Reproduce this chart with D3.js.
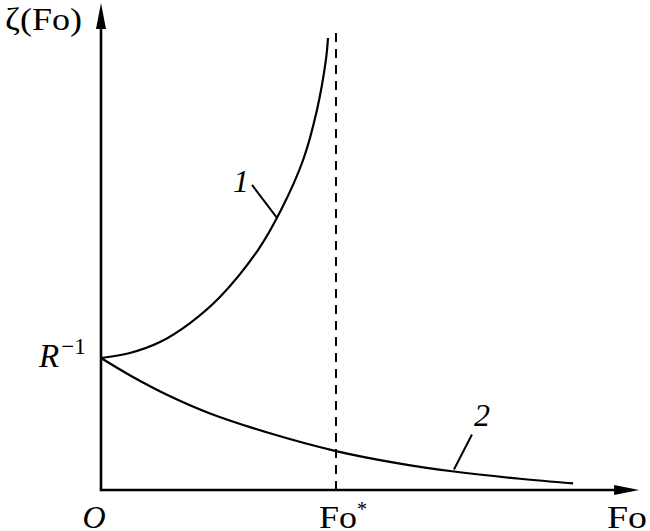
<!DOCTYPE html>
<html>
<head>
<meta charset="utf-8">
<script src="https://cdn.jsdelivr.net/npm/d3@7"></script>
<style>
  html, body { margin: 0; padding: 0; background: #fff; }
  svg { display: block; }
</style>
</head>
<body>
<svg id="chart" width="650" height="531"></svg>
<script>
// Data (Fo in units of Fo*, zeta in units of R^-1)
const curve1Fo   = [0, 0.123, 0.251, 0.379, 0.506, 0.668, 0.766, 0.860, 0.919, 0.957, 0.966];
const curve1Zeta = [1, 1.038, 1.121, 1.265, 1.462, 1.818, 2.121, 2.5, 2.879, 3.258, 3.424];
const curve2Fo   = [0, 0.132, 0.294, 0.464, 0.719, 1.0, 1.272, 1.502, 1.783, 2.009];
const curve2Zeta = [1, 0.86, 0.71, 0.58, 0.43, 0.295, 0.20, 0.14, 0.085, 0.05];
const foStar = 1;
const xAxisMax = 2.29;
const yAxisMax = 3.69;
const dashedTop = 3.50;
const curveLabels = ["1", "2"];
const axisLabels = { y: "ζ(Fo)", x: "Fo", origin: "O", foStar: "Fo", r: "R" };

const FONT = "'Liberation Serif', 'Times New Roman', 'DejaVu Serif', serif";
const svg = d3.select("#chart");
const x = d3.scaleLinear().domain([0, 1]).range([101, 336]);
const y = d3.scaleLinear().domain([0, 1]).range([490, 358]);

const line = d3.line().x(d => x(d[0])).y(d => y(d[1])).curve(d3.curveCatmullRom.alpha(0.5));
const c1 = curve1Fo.map((f, i) => [f, curve1Zeta[i]]);
const c2 = curve2Fo.map((f, i) => [f, curve2Zeta[i]]);

// dashed Fo* line
svg.append("line")
  .attr("x1", x(foStar)).attr("x2", x(foStar))
  .attr("y1", y(0)).attr("y2", y(dashedTop))
  .attr("stroke", "#000").attr("stroke-width", 2)
  .attr("stroke-dasharray", "9,7");

// curves
[c1, c2].forEach(c => {
  svg.append("path").datum(c).attr("d", line)
    .attr("fill", "none").attr("stroke", "#000").attr("stroke-width", 2.2);
});

// axes
svg.append("line")
  .attr("x1", x(0)).attr("x2", x(xAxisMax) - 10)
  .attr("y1", y(0)).attr("y2", y(0))
  .attr("stroke", "#000").attr("stroke-width", 2.6);
svg.append("line")
  .attr("x1", x(0)).attr("x2", x(0))
  .attr("y1", y(0) + 1.3).attr("y2", y(yAxisMax) + 10)
  .attr("stroke", "#000").attr("stroke-width", 2.6);
// arrowheads
const xt = x(xAxisMax), yt = y(0);
svg.append("path")
  .attr("d", `M${xt},${yt} L${xt - 25},${yt - 5} L${xt - 25},${yt + 5} Z`)
  .attr("fill", "#000");
const ax = x(0), ay = y(yAxisMax);
svg.append("path")
  .attr("d", `M${ax},${ay} L${ax - 5},${ay + 26} L${ax + 5},${ay + 26} Z`)
  .attr("fill", "#000");

function txt(px, py, size) {
  return svg.append("text").attr("x", px).attr("y", py)
    .attr("font-family", FONT).attr("font-size", size).attr("fill", "#000");
}

// leaders for curve labels
const lead1 = [0.749, 2.061];
svg.append("line")
  .attr("x1", x(lead1[0])).attr("y1", y(lead1[1]))
  .attr("x2", x(lead1[0]) - 25).attr("y2", y(lead1[1]) - 33)
  .attr("stroke", "#000").attr("stroke-width", 2);
txt(x(lead1[0]) - 44, y(lead1[1]) - 26, 32).attr("font-style", "italic").text(curveLabels[0]);

const lead2 = [1.502, 0.14];
svg.append("line")
  .attr("x1", x(lead2[0])).attr("y1", y(lead2[1]) - 2)
  .attr("x2", x(lead2[0]) + 18).attr("y2", y(lead2[1]) - 37)
  .attr("stroke", "#000").attr("stroke-width", 2);
txt(x(lead2[0]) + 20, y(lead2[1]) - 46, 32).attr("font-style", "italic").text(curveLabels[1]);

// axis labels
txt(5, 30, 31).attr("textLength", 77).attr("lengthAdjust", "spacingAndGlyphs").text(axisLabels.y);

const rl = txt(39, 367, 33);
rl.append("tspan").attr("font-style", "italic").text(axisLabels.r);
rl.append("tspan").attr("font-size", 23).attr("dy", -13).attr("dx", 2).text("−1");

txt(x(0) - 7, 528, 32).attr("text-anchor", "middle").attr("font-style", "italic").text(axisLabels.origin);

const fs = txt(x(foStar) - 17, 528, 32);
fs.append("tspan").attr("textLength", 38).attr("lengthAdjust", "spacingAndGlyphs").text(axisLabels.foStar);
fs.append("tspan").attr("font-size", 20).attr("dy", -12).text("*");

txt(607, 528, 32).attr("textLength", 40).attr("lengthAdjust", "spacingAndGlyphs").text(axisLabels.x);
</script>
</body>
</html>
